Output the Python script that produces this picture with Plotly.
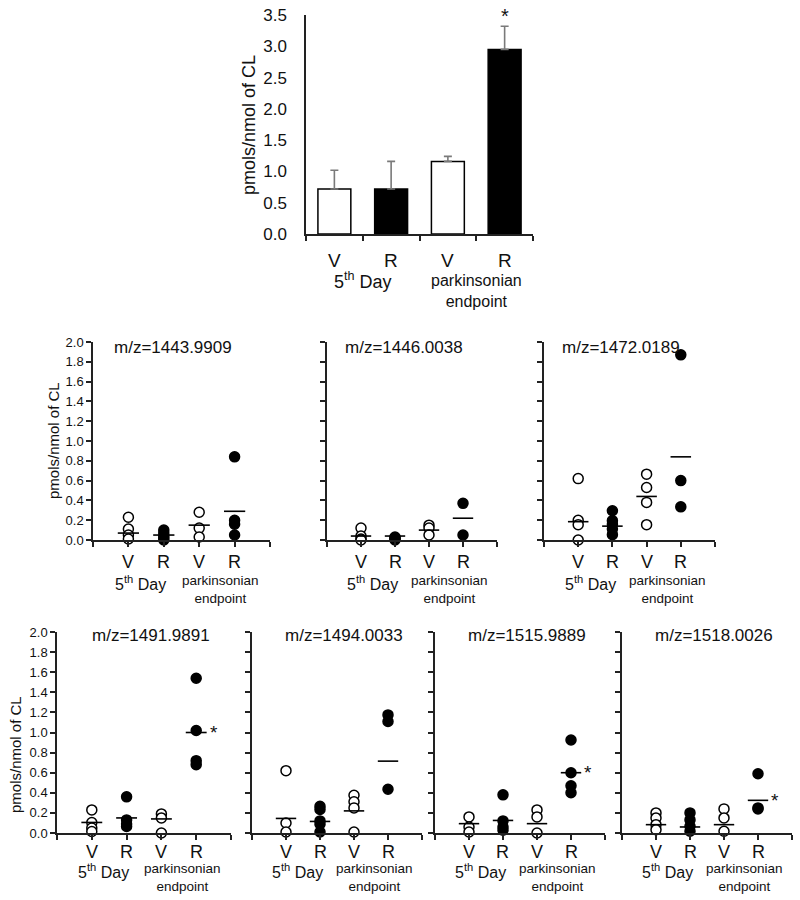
import plotly.graph_objects as go

FONT = "Liberation Sans, Arial, sans-serif"
W, H = 800, 900
OFF = 0  # page body margin is reset to 0 below
INK = "#111111"
AX = "#222222"

# ---------------- data ----------------
# top bar chart (mean +/- SEM)
bar_labels = ["V", "R", "V", "R"]
bar_values = [0.72, 0.72, 1.16, 2.95]
bar_errors = [0.30, 0.44, 0.08, 0.37]
bar_fill = ["white", "black", "white", "black"]
bar_star = [False, False, False, True]

group_labels = ["5<sup>th</sup> Day", "parkinsonian<br>endpoint"]
ytitle = "pmols/nmol of CL"

# individual species: points per group [V 5th day, R 5th day, V endpoint, R endpoint]
mz1443_points = [[0.23, 0.11, 0.05, 0.01], [0.10, 0.07, 0.04, 0.02, 0.00],
                 [0.28, 0.12, 0.03], [0.84, 0.20, 0.16, 0.05]]
mz1443_means = [0.07, 0.05, 0.15, 0.29]

mz1446_points = [[0.12, 0.04, 0.01, 0.00], [0.03, 0.02, 0.01, 0.00],
                 [0.15, 0.12, 0.05], [0.37, 0.05]]
mz1446_means = [0.04, 0.04, 0.10, 0.22]

mz1472_points = [[0.62, 0.20, 0.155, 0.00], [0.295, 0.195, 0.16, 0.11, 0.054],
                 [0.665, 0.53, 0.38, 0.155], [1.87, 0.60, 0.335]]
mz1472_means = [0.185, 0.14, 0.44, 0.84]

mz1491_points = [[0.23, 0.105, 0.05, 0.015], [0.36, 0.13, 0.09, 0.065],
                 [0.19, 0.15, 0.00], [1.54, 1.02, 0.72, 0.68]]
mz1491_means = [0.105, 0.15, 0.14, 1.00]

mz1494_points = [[0.62, 0.10, 0.01], [0.265, 0.235, 0.12, 0.087, 0.01],
                 [0.375, 0.31, 0.25, 0.01], [1.175, 1.11, 0.435]]
mz1494_means = [0.145, 0.115, 0.22, 0.715]

mz1515_points = [[0.16, 0.06, 0.01], [0.38, 0.12, 0.06, 0.027],
                 [0.23, 0.16, 0.00], [0.925, 0.60, 0.47, 0.40]]
mz1515_means = [0.093, 0.125, 0.093, 0.60]

mz1518_points = [[0.20, 0.15, 0.083, 0.033], [0.20, 0.13, 0.066, 0.017],
                 [0.24, 0.15, 0.017], [0.59, 0.25, 0.24]]
mz1518_means = [0.083, 0.06, 0.083, 0.325]

panel_titles = ["m/z=1443.9909", "m/z=1446.0038", "m/z=1472.0189",
                "m/z=1491.9891", "m/z=1494.0033", "m/z=1515.9889", "m/z=1518.0026"]
panel_points = [mz1443_points, mz1446_points, mz1472_points,
                mz1491_points, mz1494_points, mz1515_points, mz1518_points]
panel_means = [mz1443_means, mz1446_means, mz1472_means,
               mz1491_means, mz1494_means, mz1515_means, mz1518_means]
panel_star = [False, False, False, True, False, True, True]
group_open = [True, False, True, False]


# ---------------- helpers ----------------
def fx(px):
    return (px - OFF) / W


def fy(py):
    return 1 - (py - OFF) / H


# panel geometry in pixels: (x0, x1, ytop, ybottom)
panel_geom = [
    (93, 270, 342, 540), (327, 497, 342, 540), (544, 715, 342, 540),
    (57, 231, 632, 833), (252, 422, 632, 833), (435, 605, 632, 833), (622, 792, 632, 833),
]
row_first = [True, False, False, True, False, False, False]
row_of = [0, 0, 0, 1, 1, 1, 1]
row_label_y = [
    dict(vr=562, day=583, park=571, title=347, tx=2.25),
    dict(vr=852, day=871, park=859, title=635, tx=2.7),
]

fig = go.Figure()
annotations = []
layout = dict(
    width=W, height=H,
    margin=dict(l=0, r=0, t=0, b=0, autoexpand=False),
    paper_bgcolor="white", plot_bgcolor="white",
    showlegend=False,
    font=dict(family=FONT, color=INK),
)

# ---------------- top bar chart ----------------
cats = list(range(1, len(bar_labels) + 1))
fig.add_trace(go.Bar(
    x=cats, y=bar_values, width=0.58,
    marker=dict(color=bar_fill, line=dict(color="black", width=1.5)),
    error_y=dict(type="data", array=bar_errors, arrayminus=[0] * len(bar_errors),
                 symmetric=False, color="#7a7a7a", thickness=1.6, width=4),
    xaxis="x", yaxis="y", cliponaxis=False, hoverinfo="skip",
))
layout["xaxis"] = dict(
    domain=[fx(306), fx(533)], range=[0.5, len(cats) + 0.5], anchor="y",
    showline=True, linecolor=AX, linewidth=1.5, showgrid=False, zeroline=False,
    ticks="outside", ticklen=5, tickwidth=1.5, tickcolor=AX,
    tickvals=[c - 0.5 for c in cats] + [cats[-1] + 0.5], showticklabels=False,
)
layout["yaxis"] = dict(
    domain=[fy(234), fy(15)], range=[0, 3.5], anchor="x", dtick=0.5, tickformat=".1f",
    showline=True, linecolor=AX, linewidth=1.5, showgrid=False, zeroline=False,
    ticks="", ticklabelstandoff=14, ticklabeloverflow="allow",
    tickfont=dict(size=17, color=INK, family=FONT),
)
for c, lab in zip(cats, bar_labels):
    annotations.append(dict(x=c, y=fy(260), xref="x", yref="paper", text=lab, showarrow=False,
                            font=dict(size=19, family=FONT, color=INK), xanchor="center", yanchor="middle"))
annotations.append(dict(x=1.5, y=fy(281), xref="x", yref="paper", text=group_labels[0], showarrow=False,
                        font=dict(size=18, family=FONT, color=INK), xanchor="center", yanchor="middle"))
annotations.append(dict(x=3.5, y=fy(270), xref="x", yref="paper", text=group_labels[1], showarrow=False,
                        font=dict(size=16, family=FONT, color=INK), xanchor="center", yanchor="top"))
annotations.append(dict(x=fx(249), y=fy(125), xref="paper", yref="paper", text=ytitle, textangle=-90,
                        showarrow=False, xanchor="center", yanchor="middle",
                        font=dict(size=18, family=FONT, color=INK)))
for c, v, e, s in zip(cats, bar_values, bar_errors, bar_star):
    if s:
        annotations.append(dict(x=c, y=v + e, xref="x", yref="y", text="*", showarrow=False,
                                xanchor="center", yanchor="middle", yshift=10,
                                font=dict(size=20, family=FONT, color=INK)))

# ---------------- scatter panels ----------------
for i, (title, pts, means, star) in enumerate(zip(panel_titles, panel_points, panel_means, panel_star)):
    k = i + 2
    xa, ya = f"x{k}", f"y{k}"
    x0, x1, yt, yb = panel_geom[i]
    rl = row_label_y[row_of[i]]
    ng = len(pts)
    for j, grp in enumerate(pts):
        xc = j + 1
        if group_open[j]:
            mk = dict(size=10, color="white", line=dict(color="black", width=1.5), symbol="circle")
        else:
            mk = dict(size=10, color="black", line=dict(color="black", width=1.5), symbol="circle")
        fig.add_trace(go.Scatter(x=[xc] * len(grp), y=grp, mode="markers", marker=mk,
                                 xaxis=xa, yaxis=ya, cliponaxis=False, hoverinfo="skip"))
    mx, my = [], []
    for j, m in enumerate(means):
        mx += [j + 1 - 0.3, j + 1 + 0.3, None]
        my += [m, m, None]
    fig.add_trace(go.Scatter(x=mx, y=my, mode="lines", line=dict(color="black", width=1.6),
                             xaxis=xa, yaxis=ya, cliponaxis=False, hoverinfo="skip"))
    layout[f"xaxis{k}"] = dict(
        domain=[fx(x0), fx(x1)], range=[0, ng + 1], anchor=ya,
        showline=True, linecolor=AX, linewidth=1.5, showgrid=False, zeroline=False,
        ticks="outside", ticklen=5, tickwidth=1.5, tickcolor=AX,
        tickvals=list(range(0, ng + 2)), showticklabels=False,
    )
    layout[f"yaxis{k}"] = dict(
        domain=[fy(yb), fy(yt)], range=[0, 2.0], anchor=xa, dtick=0.2, tickformat=".1f",
        showline=True, linecolor=AX, linewidth=1.5, showgrid=False, zeroline=False,
        ticks="outside", ticklen=5, tickwidth=1.5, tickcolor=AX, ticklabeloverflow="allow",
        showticklabels=row_first[i], tickfont=dict(size=13, family=FONT, color=INK),
    )
    for j, lab in enumerate(bar_labels):
        annotations.append(dict(x=j + 1, y=fy(rl["vr"]), xref=xa, yref="paper", text=lab, showarrow=False,
                                font=dict(size=18, family=FONT, color=INK), xanchor="center", yanchor="middle"))
    annotations.append(dict(x=1.35, y=fy(rl["day"]), xref=xa, yref="paper", text=group_labels[0],
                            showarrow=False, font=dict(size=16, family=FONT, color=INK),
                            xanchor="center", yanchor="middle"))
    annotations.append(dict(x=3.6, y=fy(rl["park"]), xref=xa, yref="paper", text=group_labels[1],
                            showarrow=False, font=dict(size=13.5, family=FONT, color=INK),
                            xanchor="center", yanchor="top"))
    annotations.append(dict(x=rl["tx"], y=fy(rl["title"]), xref=xa, yref="paper", text=title,
                            showarrow=False, font=dict(size=17, family=FONT, color=INK),
                            xanchor="center", yanchor="middle"))
    if star:
        annotations.append(dict(x=ng + 0.5, y=means[-1], xref=xa, yref=ya, text="*", showarrow=False,
                                xanchor="center", yanchor="middle", yshift=0,
                                font=dict(size=19, family=FONT, color=INK)))

annotations.append(dict(x=fx(53), y=fy(441), xref="paper", yref="paper", text=ytitle, textangle=-90,
                        showarrow=False, xanchor="center", yanchor="middle",
                        font=dict(size=15, family=FONT, color=INK)))
annotations.append(dict(x=fx(15), y=fy(755), xref="paper", yref="paper", text=ytitle, textangle=-90,
                        showarrow=False, xanchor="center", yanchor="middle",
                        font=dict(size=15, family=FONT, color=INK)))

layout["annotations"] = annotations
fig.update_layout(**layout)
fig.write_html("out.html", config={"displayModeBar": False},
               post_script="document.body.style.margin='0';")
